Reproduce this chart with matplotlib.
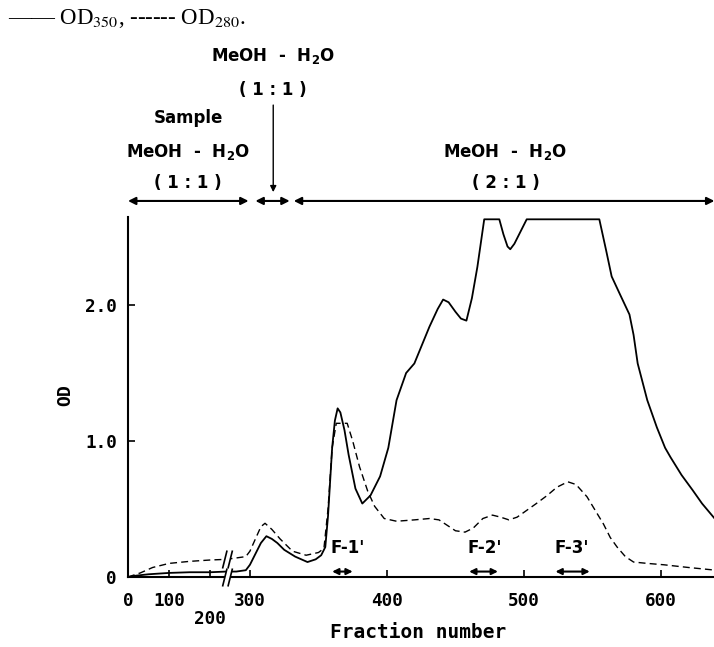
import numpy as np
import matplotlib
matplotlib.use('Agg')
import matplotlib.pyplot as plt
from matplotlib.path import Path

# OD350 (solid)
frac_350 = [0, 20, 50, 100, 150, 200, 240, 290, 297, 300, 304, 308, 312, 316, 320, 325,
            333, 342, 348, 352, 355, 357, 360, 362, 364, 366, 369, 372, 377, 382, 388,
            395, 401, 407, 414, 420, 431, 437, 441, 445, 450, 454, 458, 462, 466, 471,
            482, 485, 488, 490, 493, 497, 502, 555, 560, 564, 570, 577, 580, 583, 590,
            597, 603, 607, 615, 623, 630, 640]
od_350 = [0.0, 0.01, 0.02, 0.03, 0.035, 0.035, 0.04, 0.04, 0.05, 0.09, 0.17, 0.25, 0.30,
          0.28, 0.25, 0.20, 0.15, 0.11, 0.13, 0.16, 0.22, 0.45, 0.95, 1.15, 1.24, 1.21,
          1.08, 0.90, 0.65, 0.54, 0.60, 0.74, 0.95, 1.30, 1.50, 1.57, 1.84, 1.97, 2.04,
          2.02, 1.95, 1.90, 1.885, 2.05, 2.28, 2.63, 2.63, 2.52, 2.43, 2.41, 2.45, 2.53,
          2.63, 2.63, 2.40, 2.21, 2.08, 1.93, 1.78, 1.57, 1.30, 1.10, 0.95, 0.88, 0.75,
          0.64, 0.54, 0.42]

# OD280 (dashed)
frac_280 = [0, 30, 60, 100, 150, 200, 240, 290, 297, 300, 304, 308, 311, 316, 322, 331,
            341, 350, 354, 357, 360, 363, 371, 375, 380, 386, 391, 398, 407, 420, 431,
            438, 444, 450, 457, 463, 470, 477, 483, 489, 495, 502, 509, 517, 524, 532,
            538, 546, 552, 558, 563, 568, 574, 580, 590, 602, 620, 640]
od_280 = [0.0, 0.03, 0.07, 0.10, 0.115, 0.125, 0.13, 0.14, 0.15, 0.19, 0.28, 0.37, 0.395,
          0.35, 0.28, 0.19, 0.16, 0.18, 0.21, 0.50, 0.95, 1.13, 1.13, 1.00, 0.81, 0.63,
          0.52, 0.43, 0.41, 0.42, 0.43, 0.42, 0.38, 0.34, 0.33, 0.36, 0.43, 0.455, 0.44,
          0.42, 0.44, 0.49, 0.54, 0.60, 0.66, 0.70, 0.68, 0.59, 0.49, 0.39, 0.29, 0.22,
          0.15, 0.11, 0.10, 0.09, 0.07, 0.05]

x_ticks = [0, 100, 200, 300, 400, 500, 600]
x_tick_labels = ['0', '100', '200', '300', '400', '500', '600']
y_ticks = [0, 1, 2]
y_tick_labels = ['0', '1.0', '2.0']

# eluent ranges (fraction numbers)
eluent_ranges = [(0, 299), (304, 329), (332, 639)]
fraction_names = ["F-1'", "F-2'", "F-3'"]
fraction_ranges = [(360, 375), (460, 481), (523, 548)]

# broken x axis: 0-240 compressed, 284 onwards full scale
knots_x = [-1000, 0, 240, 284, 3000]
knots_p = [-300, 0, 72, 73, 73 + 2716]


def fwd(x):
    return np.interp(x, knots_x, knots_p)


def inv(p):
    return np.interp(p, knots_p, knots_x)


fig = plt.figure(figsize=(7.14, 6.47), dpi=100)
ax = fig.add_axes([128 / 714, 70 / 647, 586 / 714, 360 / 647])
ax.set_xscale('function', functions=(fwd, inv))
ax.set_xlim(0, 638.7)
ax.set_ylim(0, 2.647)

ax.plot(frac_350, od_350, color='black', lw=1.3)
ax.plot(frac_280, od_280, color='black', lw=1.0, ls='--', dashes=(5, 3))

for s in ['top', 'right']:
    ax.spines[s].set_visible(False)
for s in ['left', 'bottom']:
    ax.spines[s].set_linewidth(1.5)

mono = 'DejaVu Sans Mono'
ax.set_xticks(x_ticks, x_tick_labels)
ax.set_yticks(y_ticks, y_tick_labels)
ax.tick_params(direction='in', length=5, width=1.2, labelsize=12.7)
ax.tick_params(axis='x', pad=10.5)
ax.tick_params(axis='y', pad=8)
for lab in ax.get_xticklabels() + ax.get_yticklabels():
    lab.set_fontfamily(mono)
    lab.set_fontweight('bold')
ax.xaxis.get_major_ticks()[2].set_pad(24)

# axis break marks
fill_path = Path([(-0.55, -1), (0.05, -1), (0.55, 1), (-0.05, 1), (-0.55, -1)], closed=True)
slash_path = Path([(-0.55, -1), (-0.05, 1), (0.05, -1), (0.55, 1)],
                  [Path.MOVETO, Path.LINETO, Path.MOVETO, Path.LINETO])
brk_x = [262, 262]
brk_y = [0.0, 0.135]
ax.plot(brk_x, brk_y, ls='none', marker=fill_path, ms=13, mfc='white', mec='white',
        mew=0, clip_on=False, zorder=5)
ax.plot(brk_x, brk_y, ls='none', marker=slash_path, ms=13, mfc='none', mec='black',
        mew=1.2, clip_on=False, zorder=6)

txt = dict(ha='center', va='center', fontsize=12, fontfamily='DejaVu Sans',
           fontweight='bold', math_fontfamily='dejavusans', clip_on=False)
meoh = r'MeOH  -  H$_\mathbf{2}$O'

# eluent arrows above the plot
arr_y = 2.765
for x0, x1 in eluent_ranges:
    ax.annotate('', xy=(x1, arr_y), xytext=(x0, arr_y), annotation_clip=False,
                arrowprops=dict(arrowstyle='<|-|>', color='black', lw=1.5,
                                mutation_scale=11, shrinkA=0, shrinkB=0))

ax.text(146, 3.375, 'Sample', **txt)
ax.text(146, 3.125, meoh, **txt)
ax.text(146, 2.90, '( 1 : 1 )', **txt)

ax.text(317, 3.83, meoh, **txt)
ax.text(317, 3.58, '( 1 : 1 )', **txt)
ax.annotate('', xy=(317, 2.83), xytext=(317, 3.47), annotation_clip=False,
            arrowprops=dict(arrowstyle='-|>', color='black', lw=1.0,
                            mutation_scale=9, shrinkA=0, shrinkB=0))

ax.text(486, 3.125, meoh, **txt)
ax.text(487, 2.90, '( 2 : 1 )', **txt)

# fraction markers
for name, (x0, x1) in zip(fraction_names, fraction_ranges):
    ax.text(x0 - 1, 0.213, name, ha='left', va='center', fontsize=12,
            fontfamily='DejaVu Sans', fontweight='bold')
    ax.annotate('', xy=(x1, 0.04), xytext=(x0, 0.04),
                arrowprops=dict(arrowstyle='<|-|>', color='black', lw=1.5,
                                mutation_scale=9, shrinkA=0, shrinkB=0))

fig.text(418 / 714, 1 - 633 / 647, 'Fraction number', ha='center', va='center',
         fontsize=14, fontfamily=mono, fontweight='bold')
fig.text(65 / 714, 1 - 395 / 647, 'OD', ha='center', va='center', rotation=90,
         fontsize=13, fontfamily=mono, fontweight='bold')

fig.text(8 / 714, 1 - 18 / 647, '—— OD$_{350}$, ------ OD$_{280}$.', ha='left',
         va='center', fontsize=16.5, fontfamily='Liberation Serif', math_fontfamily='stix')

fig.savefig('out.png', dpi=100)
